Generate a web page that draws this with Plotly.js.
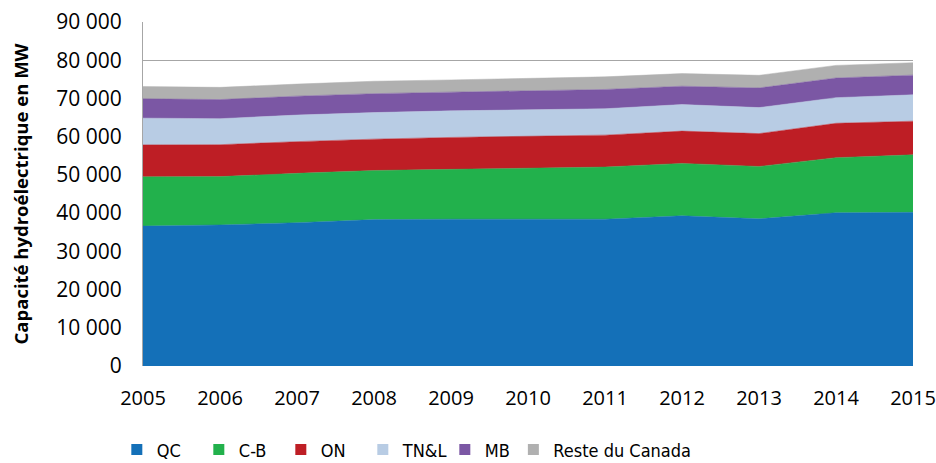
<!DOCTYPE html>
<html>
<head>
<meta charset="utf-8">
<script src="https://cdn.plot.ly/plotly-3.0.1.min.js"></script>
<style>
  body { margin: 0; background: #fff; }
  #chart { width: 936px; height: 463px; }
</style>
</head>
<body>
<div id="chart"></div>
<script>
// capacité hydroélectrique par province (MW)
const years = [2005, 2006, 2007, 2008, 2009, 2010, 2011, 2012, 2013, 2014, 2015];
const qc    = [36600, 36900, 37500, 38300, 38400, 38400, 38400, 39300, 38500, 40100, 40200];
const cb    = [12900, 12650, 12900, 12850, 13050, 13350, 13650, 13700, 13700, 14400, 15050];
const on    = [8350, 8350, 8300, 8200, 8350, 8350, 8350, 8450, 8600, 9000, 8800];
const tnl   = [7000, 6800, 6950, 6950, 6950, 6950, 6900, 6950, 6800, 6700, 6900];
const mb    = [5050, 5000, 4950, 4950, 4900, 4900, 5050, 4800, 5150, 5150, 5150];
const reste = [3200, 3200, 3150, 3250, 3200, 3250, 3300, 3300, 3300, 3300, 3250];

const series = [
    { name: 'QC', y: qc, color: '#1470b8' },
    { name: 'C-B', y: cb, color: '#22b14c' },
    { name: 'ON', y: on, color: '#be1e25' },
    { name: 'TN&L', y: tnl, color: '#b8cce4' },
    { name: 'MB', y: mb, color: '#7b57a4' },
    { name: 'Reste du Canada', y: reste, color: '#b0b0b0' }
];

// aires empilées (sans légende)
const traces = series.map(s => ({
    x: years,
    y: s.y,
    name: s.name,
    type: 'scatter',
    mode: 'lines',
    stackgroup: 'one',
    line: { color: s.color, width: 0.5 },
    fillcolor: s.color,
    showlegend: false
}));

// entrées de légende : petits carrés
// (le dernier va dans une 2e légende, sinon son texte est coupé)
series.forEach((s, i) => {
    traces.push({
        x: [null],
        y: [null],
        name: s.name,
        type: 'scatter',
        mode: 'markers',
        marker: { symbol: 'square', size: 11, color: s.color },
        legend: i === series.length - 1 ? 'legend2' : 'legend',
        showlegend: true
    });
});

const legendFont = { family: 'Liberation Sans Narrow, DejaVu Sans Condensed, Roboto Condensed, sans-serif', size: 18 };

const layout = {
    width: 936,
    height: 463,
    margin: { l: 143, r: 23, t: 22, b: 97, autoexpand: false },
    separators: ', ',
    paper_bgcolor: '#fff',
    plot_bgcolor: '#fff',
    font: { family: 'Open Sans, sans-serif', size: 21, color: '#000' },
    xaxis: {
        range: [2005, 2015],
        tickmode: 'linear',
        tick0: 2005,
        dtick: 1,
        showgrid: false,
        zeroline: false,
        showline: false,
        ticklabelstandoff: 18,
        ticklabeloverflow: 'allow',
        tickfont: { size: 20 }
    },
    yaxis: {
        range: [0, 90000],
        dtick: 10000,
        tickformat: ',d',
        showgrid: true,
        gridcolor: '#a6a6a6',
        gridwidth: 1,
        zeroline: false,
        showline: true,
        linecolor: '#a6a6a6',
        linewidth: 1,
        ticklabelstandoff: 16,
        tickfont: { size: 21 },
        title: {
            text: 'Capacité hydroélectrique en MW',
            font: { size: 18.5, family: 'Open Sans, sans-serif', weight: 'bold' },
            standoff: 22
        }
    },
    showlegend: true,
    legend: {
        orientation: 'h',
        x: -0.034,
        xanchor: 'left',
        y: -0.19,
        yanchor: 'top',
        traceorder: 'normal',
        entrywidth: 37,
        entrywidthmode: 'pixels',
        font: legendFont
    },
    legend2: {
        orientation: 'h',
        x: 0.481,
        xanchor: 'left',
        y: -0.19,
        yanchor: 'top',
        font: legendFont
    }
};

Plotly.newPlot('chart', traces, layout, { staticPlot: true, displayModeBar: false });
</script>
</body>
</html>
